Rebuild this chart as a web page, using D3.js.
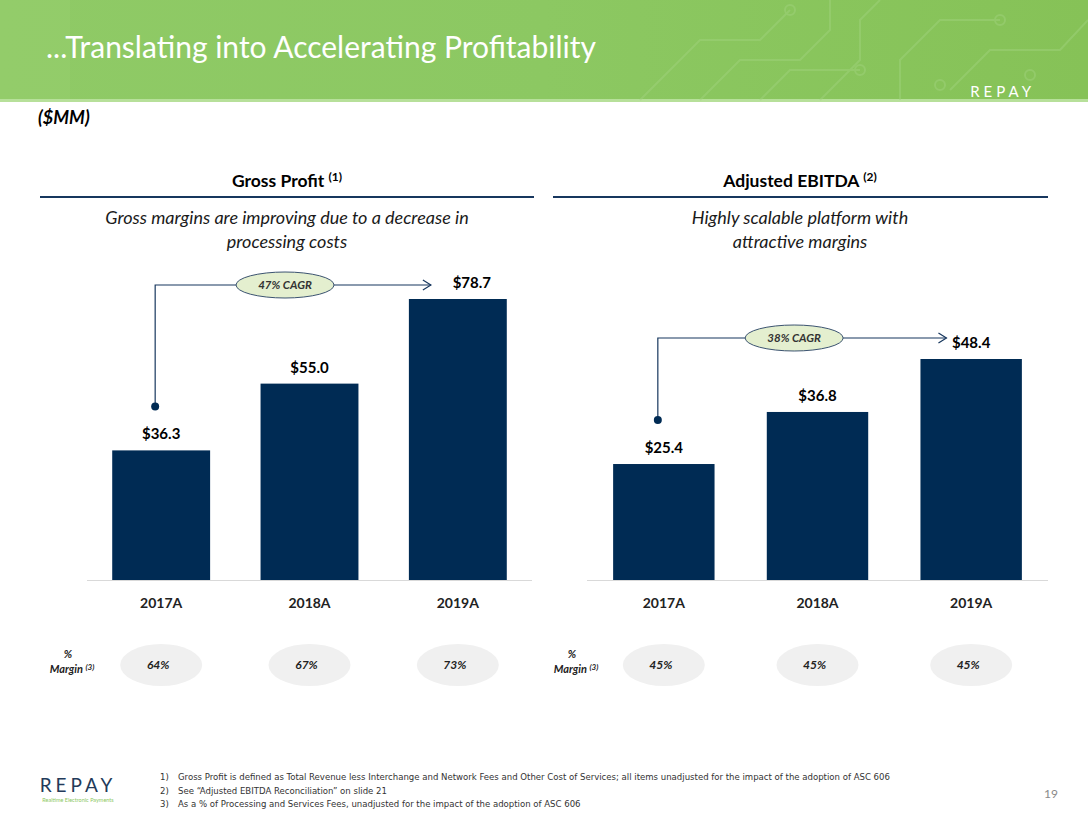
<!DOCTYPE html>
<html>
<head>
<meta charset="utf-8">
<script src="https://cdn.jsdelivr.net/npm/d3@7"></script>
<style>
  html, body { margin: 0; padding: 0; background: #fff; }
  svg { display: block; font-family: Lato, "Open Sans", sans-serif; }
</style>
</head>
<body>
<svg id="svg" width="1088" height="816"></svg>
<script>
const years = ["2017A", "2018A", "2019A"];
const grossProfit = [36.3, 55.0, 78.7];
const adjEbitda = [25.4, 36.8, 48.4];
const grossMargin = ["64%", "67%", "73%"];
const ebitdaMargin = ["45%", "45%", "45%"];
const cagrLabels = ["47% CAGR", "38% CAGR"];
const footnotes = [
  "Gross Profit is defined as Total Revenue less Interchange and Network Fees and Other Cost of Services; all items unadjusted for the impact of the adoption of ASC 606",
  "See \u201cAdjusted EBITDA Reconciliation\u201d on slide 21",
  "As a % of Processing and Services Fees, unadjusted for the impact of the adoption of ASC 606"
];

const svg = d3.select("#svg");
const navy = "#002b54";

// header banner
const defs = svg.append("defs");
const grad = defs.append("linearGradient").attr("id", "banner");
grad.append("stop").attr("offset", "0%").attr("stop-color", "#8fca66");
grad.append("stop").attr("offset", "50%").attr("stop-color", "#8cc862");
grad.append("stop").attr("offset", "100%").attr("stop-color", "#86c257");
svg.append("rect").attr("width", 1088).attr("height", 100).attr("fill", "url(#banner)");
svg.append("rect").attr("x", 0).attr("width", 70).attr("height", 100).attr("fill", "#9bd174").attr("opacity", 0.35);
svg.append("rect").attr("y", 99).attr("width", 1088).attr("height", 3).attr("fill", "#b7e09a");

// faint circuit traces on the right of the banner
const traces = svg.append("g").attr("fill", "none").attr("stroke", "#a2d47f").attr("stroke-width", 2).attr("opacity", 0.45);
[
  "M640,100 L700,40 L760,40 L790,10",
  "M700,100 L740,60 L800,60 L830,30 L830,0",
  "M760,100 L790,70 L860,70",
  "M820,100 L860,60 L860,20 L880,0",
  "M900,100 L900,60 L940,20 L1000,20",
  "M950,90 L990,50 L1060,50 L1088,20"
].forEach(p => traces.append("path").attr("d", p));
traces.selectAll("circle")
  .data([[790, 10], [860, 70], [1000, 20], [940, 85], [1030, 75]])
  .join("circle").attr("cx", d => d[0]).attr("cy", d => d[1]).attr("r", 5);

svg.append("text").attr("x", 46).attr("y", 58)
  .attr("fill", "#fff").attr("font-size", 30)
  .text("...Translating into Accelerating Profitability");
svg.append("text").attr("x", 1035).attr("y", 97).attr("text-anchor", "end")
  .attr("fill", "#fff").attr("font-size", 15).attr("letter-spacing", 4)
  .text("REPAY");

svg.append("text").attr("x", 38).attr("y", 124)
  .attr("font-size", 18).attr("font-weight", 700).attr("font-style", "italic")
  .text("($MM)");

function drawPanel(cfg) {
  const g = svg.append("g");
  const x = d3.scaleBand().domain(years).range(cfg.xRange).paddingInner(0.34).paddingOuter(0.17);
  const y = d3.scaleLinear().domain([0, d3.max(cfg.values)]).range([580, cfg.topY]);

  // title and rule
  const t = g.append("text").attr("x", cfg.titleX).attr("y", 187).attr("text-anchor", "middle")
    .attr("font-size", 17.5).attr("font-weight", 700);
  t.append("tspan").text(cfg.title + " ");
  t.append("tspan").attr("font-size", 12).attr("dy", -6).text(cfg.note);
  g.append("line").attr("x1", cfg.rule[0]).attr("x2", cfg.rule[1]).attr("y1", 197).attr("y2", 197)
    .attr("stroke", "#17375e").attr("stroke-width", 2);
  g.selectAll("text.sub").data(cfg.sub).join("text").attr("class", "sub")
    .attr("x", cfg.titleX).attr("y", (d, i) => 224 + i * 24).attr("text-anchor", "middle")
    .attr("font-size", 18).attr("font-style", "italic").attr("fill", "#1a1a1a").text(d => d);

  // baseline
  g.append("line").attr("x1", cfg.xRange[0]).attr("x2", cfg.xRange[1]).attr("y1", 580.5).attr("y2", 580.5)
    .attr("stroke", "#d9d9d9").attr("stroke-width", 1);

  g.selectAll("rect.bar").data(cfg.values).join("rect").attr("class", "bar")
    .attr("x", (d, i) => x(years[i])).attr("width", x.bandwidth())
    .attr("y", d => y(d)).attr("height", d => y(0) - y(d)).attr("fill", navy);

  g.selectAll("text.val").data(cfg.values).join("text").attr("class", "val")
    .attr("x", (d, i) => x(years[i]) + x.bandwidth() / 2 + (i === 2 ? cfg.lastShift : 0))
    .attr("y", d => y(d) - 11).attr("text-anchor", "middle")
    .attr("font-size", 15).attr("font-weight", 700).text(d => "$" + d.toFixed(1));

  g.selectAll("text.yr").data(years).join("text").attr("class", "yr")
    .attr("x", d => x(d) + x.bandwidth() / 2).attr("y", 608).attr("text-anchor", "middle")
    .attr("font-size", 14).attr("font-weight", 700).attr("fill", "#222").text(d => d);

  // CAGR bracket
  const x0 = x(years[0]) + x.bandwidth() / 2 - 6;
  const dotY = y(cfg.values[0]) - 44;
  const lineY = cfg.cagrY;
  const tipX = x(years[2]) + cfg.tipOffset;
  const midX = (x0 + tipX) / 2 - 8;
  g.append("path").attr("d", `M${x0},${dotY} V${lineY} H${tipX}`)
    .attr("fill", "none").attr("stroke", "#17375e").attr("stroke-width", 1.2);
  g.append("path").attr("d", `M${tipX - 8},${lineY - 5} L${tipX},${lineY} L${tipX - 8},${lineY + 5}`)
    .attr("fill", "none").attr("stroke", "#17375e").attr("stroke-width", 1.2);
  g.append("circle").attr("cx", x0).attr("cy", dotY).attr("r", 4).attr("fill", navy);
  g.append("ellipse").attr("cx", midX).attr("cy", lineY).attr("rx", 49).attr("ry", 13)
    .attr("fill", "#e4efcf").attr("stroke", "#3b5370").attr("stroke-width", 1);
  g.append("text").attr("x", midX).attr("y", lineY + 4).attr("text-anchor", "middle")
    .attr("font-size", 11.5).attr("font-style", "italic").attr("font-weight", 700).attr("fill", "#333")
    .text(cfg.cagr);

  // margin row
  const m = g.append("text").attr("x", cfg.marginLabelX).attr("y", 658).attr("text-anchor", "middle")
    .attr("font-size", 11).attr("font-style", "italic").attr("font-weight", 700).attr("fill", "#222");
  m.text("%");
  const m2 = g.append("text").attr("x", cfg.marginLabelX + 4).attr("y", 673).attr("text-anchor", "middle")
    .attr("font-size", 11).attr("font-style", "italic").attr("font-weight", 700).attr("fill", "#222");
  m2.append("tspan").text("Margin ");
  m2.append("tspan").attr("font-size", 8).attr("dy", -3).text("(3)");

  g.selectAll("ellipse.mg").data(cfg.margins).join("ellipse").attr("class", "mg")
    .attr("cx", (d, i) => x(years[i]) + x.bandwidth() / 2).attr("cy", 665)
    .attr("rx", 41).attr("ry", 21).attr("fill", "#f0f0f0");
  g.selectAll("text.mg").data(cfg.margins).join("text").attr("class", "mg")
    .attr("x", (d, i) => x(years[i]) + x.bandwidth() / 2 - 3).attr("y", 669).attr("text-anchor", "middle")
    .attr("font-size", 12).attr("font-style", "italic").attr("font-weight", 700).attr("fill", "#222")
    .text(d => d);
}

drawPanel({
  title: "Gross  Profit", note: "(1)", titleX: 287, rule: [40, 534],
  sub: ["Gross margins are improving due to a decrease in", "processing costs"],
  xRange: [87, 532], values: grossProfit, topY: 299, margins: grossMargin,
  cagr: cagrLabels[0], cagrY: 285, tipOffset: 22, lastShift: 14, marginLabelX: 68
});
drawPanel({
  title: "Adjusted  EBITDA", note: "(2)", titleX: 800, rule: [553, 1048],
  sub: ["Highly scalable platform with", "attractive margins"],
  xRange: [587, 1048], values: adjEbitda, topY: 359, margins: ebitdaMargin,
  cagr: cagrLabels[1], cagrY: 338, tipOffset: 26, lastShift: 0, marginLabelX: 572
});

// footer
svg.append("text").attr("x", 78).attr("y", 792).attr("text-anchor", "middle")
  .attr("font-size", 19).attr("letter-spacing", 4).attr("fill", "#233a5a").text("REPAY");
svg.append("text").attr("x", 78).attr("y", 802).attr("text-anchor", "middle")
  .attr("font-size", 5.5).attr("fill", "#8cc862").text("Realtime Electronic Payments");

const fn = svg.append("g").attr("font-family", "'Liberation Sans Narrow', 'DejaVu Sans Condensed', sans-serif")
  .attr("font-size", 9.5).attr("fill", "#333");
fn.selectAll("text.n").data(footnotes).join("text").attr("class", "n")
  .attr("x", 160).attr("y", (d, i) => 780 + i * 13.5).text((d, i) => (i + 1) + ")");
fn.selectAll("text.t").data(footnotes).join("text").attr("class", "t")
  .attr("x", 178).attr("y", (d, i) => 780 + i * 13.5).text(d => d);

svg.append("text").attr("x", 1058).attr("y", 798).attr("text-anchor", "end")
  .attr("font-size", 12).attr("fill", "#8a8a8a").text("19");
</script>
</body>
</html>
